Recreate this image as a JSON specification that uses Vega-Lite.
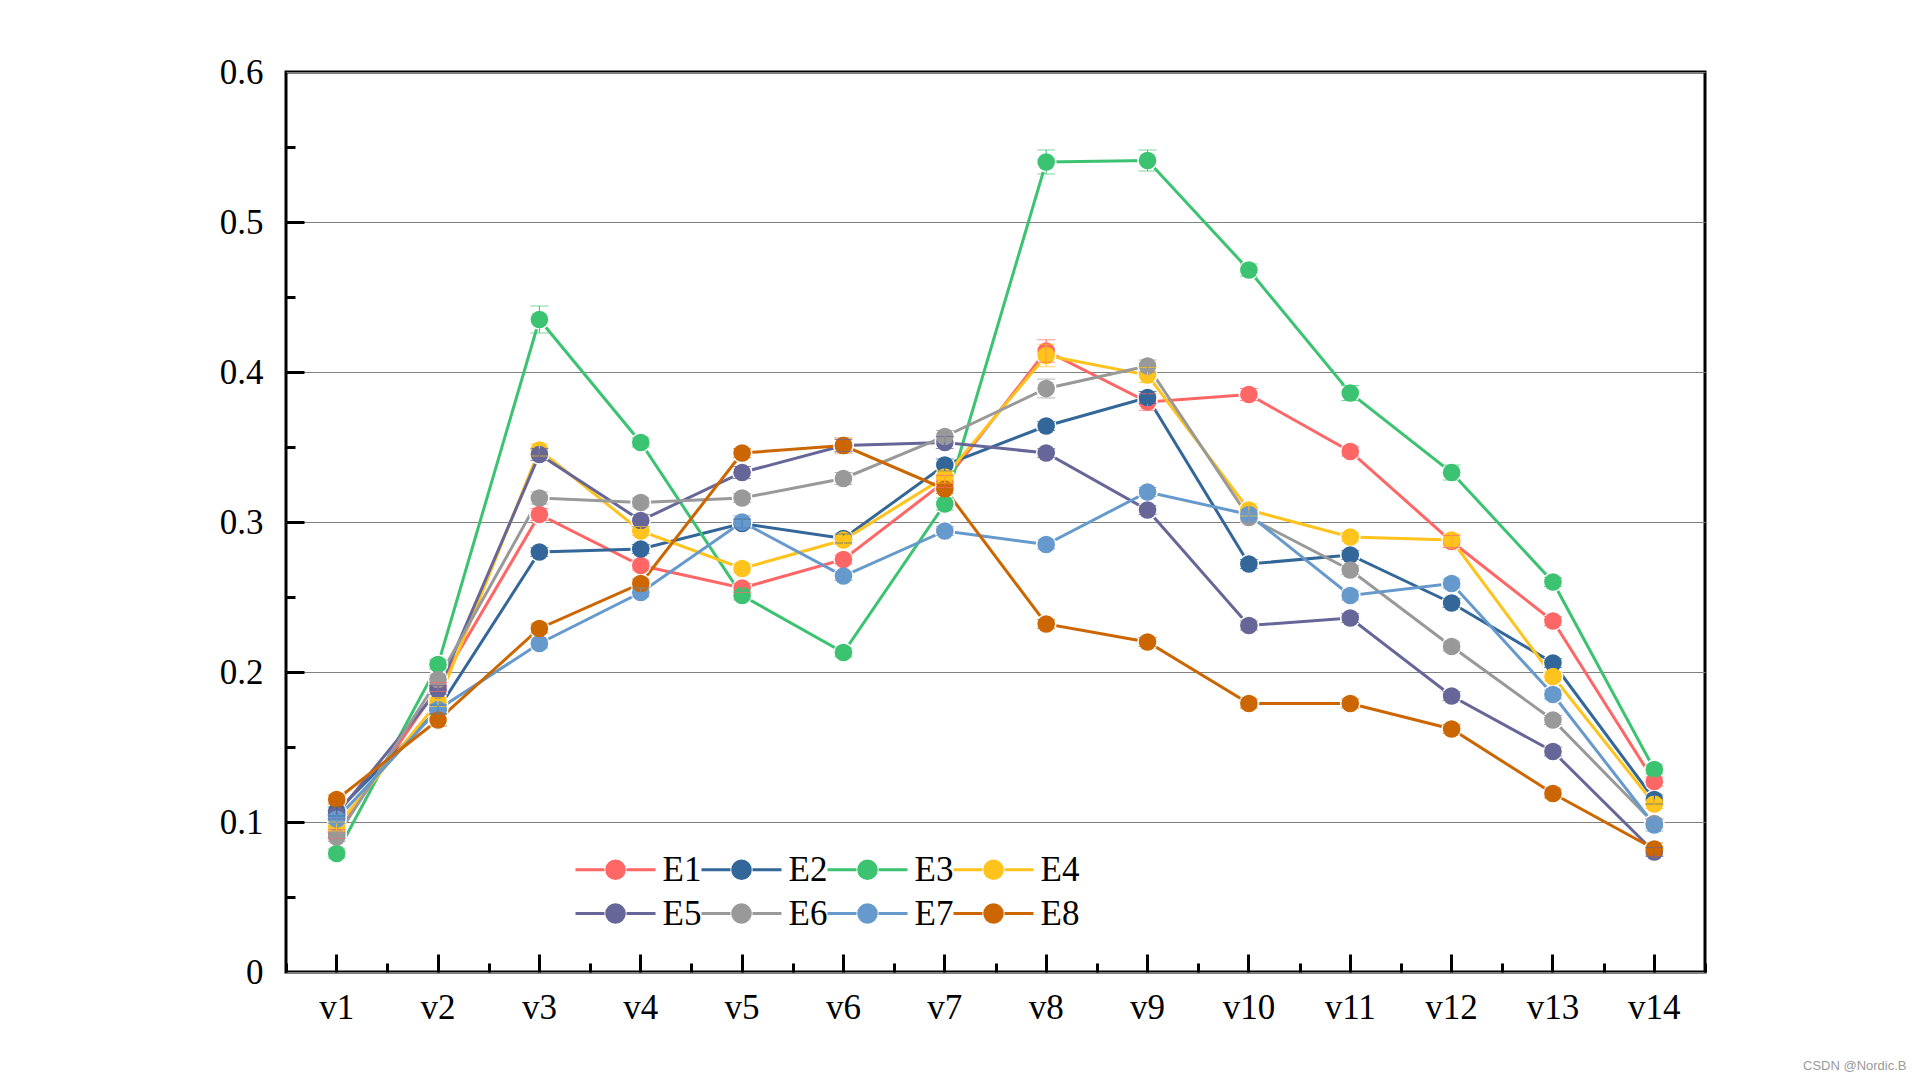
{
  "$schema": "https://vega.github.io/schema/vega-lite/v6.json",
  "autosize": {"type": "none"},
  "padding": {"left": 286, "top": 72, "right": 215, "bottom": 108},
  "width": 1419,
  "height": 900,
  "background": "white",
  "title": {"text": "CSDN @Nordic.B", "orient": "bottom", "anchor": "end", "font": "Liberation Sans", "fontSize": 13, "fontWeight": "normal", "color": "#9a9a9a", "dx": 200, "offset": 35},
  "config": {
    "view": {"stroke": "black", "strokeWidth": 3},
    "axis": {"domain": false, "title": null, "labelFont": "Liberation Serif", "labelFontSize": 35, "labelColor": "black", "tickColor": "black", "tickWidth": 3, "grid": false}
  },
  "data": {"values": [
    {"v":"v1","s":"E1","y":0.092,"e":0.003},{"v":"v2","s":"E1","y":0.190,"e":0.003},{"v":"v3","s":"E1","y":0.305,"e":0.004},{"v":"v4","s":"E1","y":0.271,"e":0.003},{"v":"v5","s":"E1","y":0.256,"e":0.003},{"v":"v6","s":"E1","y":0.275,"e":0.003},{"v":"v7","s":"E1","y":0.327,"e":0.004},{"v":"v8","s":"E1","y":0.414,"e":0.0075},{"v":"v9","s":"E1","y":0.380,"e":0.0055},{"v":"v10","s":"E1","y":0.385,"e":0.004},{"v":"v11","s":"E1","y":0.347,"e":0.003},{"v":"v12","s":"E1","y":0.287,"e":0.004},{"v":"v13","s":"E1","y":0.234,"e":0.003},{"v":"v14","s":"E1","y":0.127,"e":0.003},
    {"v":"v1","s":"E2","y":0.107,"e":0.003},{"v":"v2","s":"E2","y":0.175,"e":0.003},{"v":"v3","s":"E2","y":0.280,"e":0.003},{"v":"v4","s":"E2","y":0.282,"e":0.003},{"v":"v5","s":"E2","y":0.299,"e":0.003},{"v":"v6","s":"E2","y":0.289,"e":0.003},{"v":"v7","s":"E2","y":0.338,"e":0.004},{"v":"v8","s":"E2","y":0.364,"e":0.003},{"v":"v9","s":"E2","y":0.383,"e":0.004},{"v":"v10","s":"E2","y":0.272,"e":0.003},{"v":"v11","s":"E2","y":0.278,"e":0.003},{"v":"v12","s":"E2","y":0.246,"e":0.003},{"v":"v13","s":"E2","y":0.206,"e":0.003},{"v":"v14","s":"E2","y":0.115,"e":0.003},
    {"v":"v1","s":"E3","y":0.079,"e":0.003},{"v":"v2","s":"E3","y":0.205,"e":0.003},{"v":"v3","s":"E3","y":0.435,"e":0.009},{"v":"v4","s":"E3","y":0.353,"e":0.003},{"v":"v5","s":"E3","y":0.251,"e":0.003},{"v":"v6","s":"E3","y":0.213,"e":0.003},{"v":"v7","s":"E3","y":0.312,"e":0.004},{"v":"v8","s":"E3","y":0.540,"e":0.008},{"v":"v9","s":"E3","y":0.541,"e":0.007},{"v":"v10","s":"E3","y":0.468,"e":0.004},{"v":"v11","s":"E3","y":0.386,"e":0.005},{"v":"v12","s":"E3","y":0.333,"e":0.005},{"v":"v13","s":"E3","y":0.260,"e":0.003},{"v":"v14","s":"E3","y":0.135,"e":0.003},
    {"v":"v1","s":"E4","y":0.097,"e":0.003},{"v":"v2","s":"E4","y":0.180,"e":0.003},{"v":"v3","s":"E4","y":0.348,"e":0.004},{"v":"v4","s":"E4","y":0.294,"e":0.003},{"v":"v5","s":"E4","y":0.269,"e":0.003},{"v":"v6","s":"E4","y":0.288,"e":0.003},{"v":"v7","s":"E4","y":0.330,"e":0.004},{"v":"v8","s":"E4","y":0.411,"e":0.0075},{"v":"v9","s":"E4","y":0.398,"e":0.005},{"v":"v10","s":"E4","y":0.308,"e":0.004},{"v":"v11","s":"E4","y":0.290,"e":0.003},{"v":"v12","s":"E4","y":0.288,"e":0.004},{"v":"v13","s":"E4","y":0.197,"e":0.003},{"v":"v14","s":"E4","y":0.112,"e":0.003},
    {"v":"v1","s":"E5","y":0.105,"e":0.003},{"v":"v2","s":"E5","y":0.188,"e":0.003},{"v":"v3","s":"E5","y":0.345,"e":0.004},{"v":"v4","s":"E5","y":0.301,"e":0.004},{"v":"v5","s":"E5","y":0.333,"e":0.004},{"v":"v6","s":"E5","y":0.351,"e":0.004},{"v":"v7","s":"E5","y":0.353,"e":0.004},{"v":"v8","s":"E5","y":0.346,"e":0.003},{"v":"v9","s":"E5","y":0.308,"e":0.003},{"v":"v10","s":"E5","y":0.231,"e":0.003},{"v":"v11","s":"E5","y":0.236,"e":0.003},{"v":"v12","s":"E5","y":0.184,"e":0.003},{"v":"v13","s":"E5","y":0.147,"e":0.003},{"v":"v14","s":"E5","y":0.080,"e":0.003},
    {"v":"v1","s":"E6","y":0.090,"e":0.003},{"v":"v2","s":"E6","y":0.195,"e":0.003},{"v":"v3","s":"E6","y":0.316,"e":0.004},{"v":"v4","s":"E6","y":0.313,"e":0.003},{"v":"v5","s":"E6","y":0.316,"e":0.003},{"v":"v6","s":"E6","y":0.329,"e":0.004},{"v":"v7","s":"E6","y":0.357,"e":0.004},{"v":"v8","s":"E6","y":0.389,"e":0.0063},{"v":"v9","s":"E6","y":0.404,"e":0.004},{"v":"v10","s":"E6","y":0.303,"e":0.003},{"v":"v11","s":"E6","y":0.268,"e":0.003},{"v":"v12","s":"E6","y":0.217,"e":0.003},{"v":"v13","s":"E6","y":0.168,"e":0.003},{"v":"v14","s":"E6","y":0.099,"e":0.003},
    {"v":"v1","s":"E7","y":0.102,"e":0.003},{"v":"v2","s":"E7","y":0.175,"e":0.003},{"v":"v3","s":"E7","y":0.219,"e":0.003},{"v":"v4","s":"E7","y":0.253,"e":0.003},{"v":"v5","s":"E7","y":0.300,"e":0.004},{"v":"v6","s":"E7","y":0.264,"e":0.003},{"v":"v7","s":"E7","y":0.294,"e":0.003},{"v":"v8","s":"E7","y":0.285,"e":0.003},{"v":"v9","s":"E7","y":0.320,"e":0.003},{"v":"v10","s":"E7","y":0.305,"e":0.003},{"v":"v11","s":"E7","y":0.251,"e":0.003},{"v":"v12","s":"E7","y":0.259,"e":0.003},{"v":"v13","s":"E7","y":0.185,"e":0.003},{"v":"v14","s":"E7","y":0.098,"e":0.004},
    {"v":"v1","s":"E8","y":0.115,"e":0.003},{"v":"v2","s":"E8","y":0.168,"e":0.004},{"v":"v3","s":"E8","y":0.229,"e":0.003},{"v":"v4","s":"E8","y":0.259,"e":0.003},{"v":"v5","s":"E8","y":0.346,"e":0.003},{"v":"v6","s":"E8","y":0.351,"e":0.005},{"v":"v7","s":"E8","y":0.322,"e":0.003},{"v":"v8","s":"E8","y":0.232,"e":0.003},{"v":"v9","s":"E8","y":0.220,"e":0.003},{"v":"v10","s":"E8","y":0.179,"e":0.003},{"v":"v11","s":"E8","y":0.179,"e":0.003},{"v":"v12","s":"E8","y":0.162,"e":0.003},{"v":"v13","s":"E8","y":0.119,"e":0.003},{"v":"v14","s":"E8","y":0.082,"e":0.004}
  ]},
  "resolve": {"axis": {"x": "independent", "y": "independent"}},
  "layer": [
    {
      "mark": {"type": "line", "strokeWidth": 3},
      "encoding": {
        "x": {"field": "v", "type": "nominal", "sort": null,
              "scale": {"type": "band", "paddingInner": 0, "paddingOuter": 0},
              "axis": {"orient": "bottom", "labelAngle": 0, "ticks": false, "tickSize": 0, "labelPadding": 18}},
        "y": {"field": "y", "type": "quantitative",
              "scale": {"domain": [0, 0.6], "nice": false, "zero": true},
              "axis": {"orient": "left", "values": [0, 0.1, 0.2, 0.3, 0.4, 0.5, 0.6], "labelExpr": "datum.value == 0 ? '0' : format(datum.value, '.1f')", "ticks": false, "tickSize": 0, "labelPadding": 23, "grid": true, "gridColor": "#808080", "gridWidth": 1}},
        "color": {"field": "s", "type": "nominal",
                  "scale": {"domain": ["E1","E2","E3","E4","E5","E6","E7","E8"], "range": ["#FF6666","#336699","#3CC371","#FFC31E","#666699","#999999","#6699CC","#CC6600"]},
                  "legend": {"orient": "none", "legendX": 312, "legendY": 780, "direction": "horizontal", "columns": 4, "title": null, "padding": 0,
                             "symbolType": "M-4,0H-1.1M1.1,0H4M-0.88,0A0.88,0.88,0,1,0,0.88,0A0.88,0.88,0,1,0,-0.88,0M-0.6,0A0.6,0.6,0,1,0,0.6,0A0.6,0.6,0,1,0,-0.6,0M-0.33,0A0.33,0.33,0,1,0,0.33,0A0.33,0.33,0,1,0,-0.33,0M-0.08,0A0.08,0.08,0,1,0,0.08,0A0.08,0.08,0,1,0,-0.08,0",
                             "symbolSize": 400, "symbolStrokeWidth": 3, "labelFont": "Liberation Serif", "labelFontSize": 35, "labelColor": "black", "labelOffset": 29.5, "columnPadding": -7, "rowPadding": 8}}
      }
    },
    {
      "mark": {"type": "point", "filled": true, "color": "white", "opacity": 1, "size": 430},
      "encoding": {
        "x": {"field": "v", "type": "nominal", "sort": null,
              "axis": {"orient": "bottom", "labels": false, "tickSize": -18, "grid": false}},
        "y": {"field": "y", "type": "quantitative",
              "axis": {"orient": "left", "values": [0.1, 0.2, 0.3, 0.4, 0.5], "labels": false, "tickSize": -18, "grid": false}},
        "detail": {"field": "s", "type": "nominal"}
      }
    },
    {
      "mark": {"type": "point", "filled": true, "opacity": 1, "size": 310},
      "encoding": {
        "x": {"field": "v", "type": "nominal", "sort": null,
              "axis": {"orient": "bottom", "labels": false, "tickSize": -9, "tickBand": "extent", "grid": false}},
        "y": {"field": "y", "type": "quantitative",
              "axis": {"orient": "left", "values": [0.05, 0.15, 0.25, 0.35, 0.45, 0.55], "labels": false, "tickSize": -9, "grid": false}},
        "color": {"field": "s", "type": "nominal", "legend": null}
      }
    },
    {
      "mark": {"type": "errorbar", "ticks": {"size": 18, "thickness": 1}, "rule": {"strokeWidth": 1}},
      "encoding": {
        "x": {"field": "v", "type": "nominal", "sort": null, "axis": null},
        "y": {"field": "y", "type": "quantitative", "axis": null},
        "yError": {"field": "e"},
        "color": {"field": "s", "type": "nominal", "legend": null}
      }
    }
  ]
}
